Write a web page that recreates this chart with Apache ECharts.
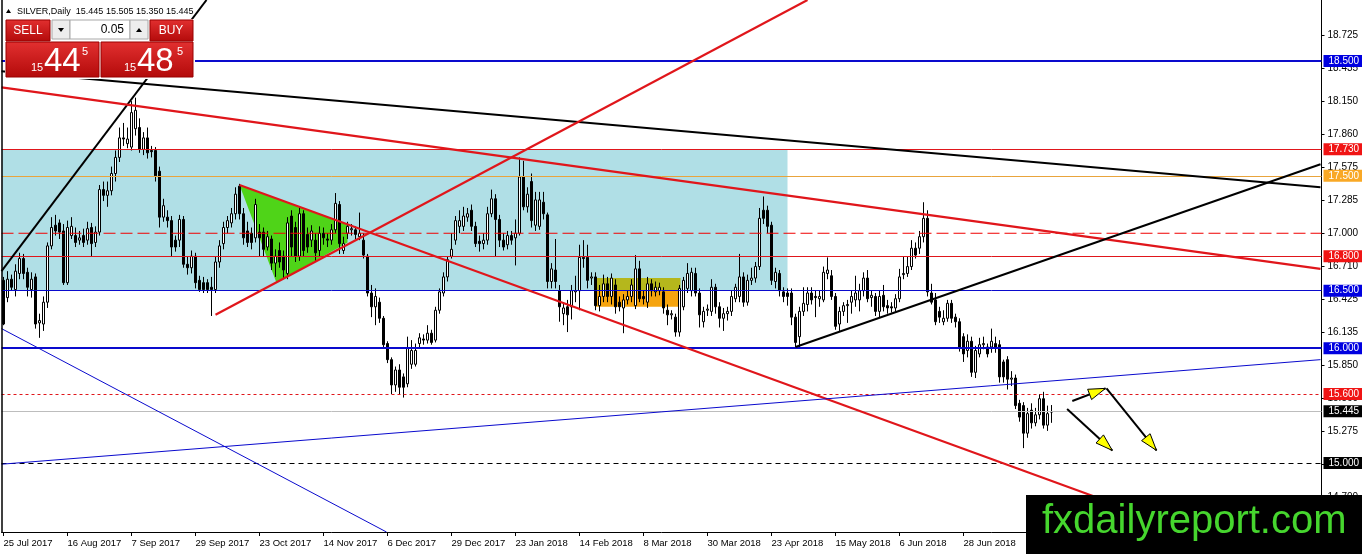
<!DOCTYPE html>
<html><head><meta charset="utf-8">
<script src="https://cdn.jsdelivr.net/npm/echarts@6/dist/echarts.min.js"></script>
<style>html,body{margin:0;padding:0;background:#fff}#c{width:1362px;height:554px}</style>
</head><body><div id="c"></div>
<script>
// ---- data ----
const dateLabels = ["25 Jul 2017","16 Aug 2017","7 Sep 2017","29 Sep 2017","23 Oct 2017","14 Nov 2017","6 Dec 2017","29 Dec 2017","23 Jan 2018","14 Feb 2018","8 Mar 2018","30 Mar 2018","23 Apr 2018","15 May 2018","6 Jun 2018","28 Jun 2018"];
const labelStep = 16;
const slotCount = 330;
const priceTicks = [18.725,18.435,18.150,17.860,17.575,17.285,17.000,16.710,16.425,16.135,15.850,15.560,15.275,14.990,14.700];
// daily bars: [open, high, low, close]
const ohlc = [
[16.59,16.62,16.20,16.21],[16.44,16.67,16.40,16.60],[16.60,16.64,16.50,16.53],[16.51,16.73,16.45,16.67],[16.65,16.83,16.60,16.78],
[16.78,16.82,16.60,16.65],[16.66,16.70,16.45,16.53],[16.51,16.66,16.44,16.60],[16.62,16.65,16.17,16.21],[16.22,16.30,16.09,16.24],
[16.21,16.45,16.15,16.40],[16.40,16.92,16.35,16.89],[16.89,17.14,16.86,17.05],[17.07,17.16,16.98,17.02],[17.09,17.12,16.95,17.01],
[17.02,17.08,16.55,16.57],[16.57,17.11,16.55,17.05],[16.98,17.14,16.95,17.06],[16.98,17.05,16.88,16.92],[16.94,17.02,16.90,16.96],
[16.98,17.04,16.88,16.92],[16.94,17.10,16.90,17.04],[17.05,17.09,16.80,16.91],[16.92,17.06,16.88,17.01],[17.01,17.42,16.98,17.38],
[17.38,17.45,17.28,17.33],[17.33,17.45,17.23,17.37],[17.37,17.58,17.33,17.52],[17.52,17.72,17.45,17.66],[17.66,17.92,17.62,17.83],
[17.83,17.96,17.76,17.82],[17.78,17.92,17.74,17.82],[17.75,18.15,17.72,18.05],[17.91,18.18,17.85,18.07],[17.92,18.00,17.70,17.73],
[17.73,17.88,17.68,17.83],[17.83,17.92,17.65,17.70],[17.72,17.76,17.66,17.71],[17.72,17.75,17.45,17.50],[17.54,17.58,17.05,17.14],
[17.14,17.30,17.10,17.24],[17.14,17.20,17.05,17.11],[17.11,17.15,16.80,16.88],[16.94,16.98,16.84,16.88],[16.94,17.16,16.88,17.12],
[17.12,17.15,16.70,16.73],[16.73,16.80,16.64,16.70],[16.70,16.85,16.65,16.80],[16.80,16.83,16.52,16.57],[16.59,16.63,16.49,16.51],
[16.57,16.62,16.48,16.51],[16.57,16.60,16.48,16.51],[16.53,16.62,16.28,16.51],[16.51,16.80,16.48,16.75],[16.75,16.94,16.70,16.89],
[16.91,17.10,16.86,17.05],[17.05,17.15,17.00,17.11],[17.09,17.22,17.05,17.17],[17.17,17.40,17.12,17.34],[17.41,17.43,17.12,17.17],
[17.17,17.22,16.90,16.96],[17.02,17.10,16.88,16.92],[17.00,17.05,16.86,16.92],[16.96,17.30,16.92,17.25],[17.01,17.08,16.80,16.96],
[17.01,17.05,16.80,16.86],[16.88,17.02,16.85,16.97],[16.95,16.98,16.68,16.74],[16.74,16.86,16.62,16.80],[16.85,16.92,16.70,16.75],
[16.80,16.85,16.60,16.68],[16.65,17.14,16.60,17.09],[17.15,17.20,16.80,16.88],[17.05,17.10,16.75,16.80],[16.80,17.23,16.76,17.17],
[17.17,17.20,16.80,16.85],[16.99,17.05,16.83,16.88],[16.94,17.07,16.88,17.02],[16.94,17.00,16.76,16.83],[16.85,17.06,16.80,17.00],
[17.00,17.05,16.90,16.96],[16.95,17.00,16.88,16.94],[16.94,17.08,16.90,17.03],[17.03,17.35,17.00,17.26],[17.25,17.28,16.82,16.91],
[16.85,16.97,16.82,16.91],[17.00,17.10,16.95,17.06],[17.03,17.08,16.98,17.04],[17.03,17.06,16.95,16.99],[16.97,17.18,16.94,17.00],
[16.94,17.00,16.78,16.81],[16.80,16.82,16.45,16.48],[16.48,16.55,16.27,16.36],[16.36,16.52,16.20,16.45],[16.40,16.44,16.22,16.26],
[16.26,16.28,16.00,16.03],[16.04,16.06,15.87,15.90],[15.90,15.92,15.60,15.68],[15.68,15.84,15.62,15.81],[15.81,15.86,15.60,15.66],
[15.75,15.78,15.57,15.66],[15.69,16.10,15.66,16.00],[15.86,16.07,15.82,15.98],[15.86,16.04,15.84,15.98],[16.04,16.13,16.00,16.09],
[16.08,16.12,16.03,16.07],[16.07,16.20,16.04,16.13],[16.13,16.16,16.03,16.05],[16.07,16.36,16.05,16.33],[16.33,16.52,16.30,16.49],
[16.48,16.66,16.45,16.62],[16.62,16.80,16.58,16.77],[16.80,17.00,16.78,16.86],[16.94,17.15,16.90,17.11],[17.06,17.20,17.00,17.11],
[17.06,17.23,17.02,17.15],[17.14,17.22,17.10,17.17],[17.20,17.25,17.02,17.06],[17.06,17.10,16.88,16.91],[16.93,16.98,16.84,16.91],
[16.91,17.00,16.86,16.94],[16.94,17.23,16.90,17.17],[17.17,17.38,17.14,17.30],[17.30,17.34,16.80,17.12],[17.12,17.16,16.88,16.94],
[16.94,17.00,16.85,16.88],[16.90,17.02,16.86,16.98],[16.98,17.02,16.90,16.94],[16.96,17.12,16.72,17.00],[17.00,17.66,16.98,17.49],
[17.49,17.63,17.20,17.23],[17.23,17.40,17.18,17.34],[17.45,17.52,17.05,17.11],[17.07,17.36,17.02,17.29],[17.06,17.36,17.03,17.29],
[17.27,17.36,17.12,17.17],[17.16,17.18,16.52,16.58],[16.58,16.74,16.52,16.69],[16.68,16.95,16.52,16.58],[16.50,16.55,16.23,16.36],
[16.30,16.40,16.20,16.35],[16.36,16.42,16.14,16.29],[16.36,16.55,16.25,16.50],[16.49,16.63,16.40,16.50],[16.50,16.90,16.33,16.79],
[16.79,16.94,16.70,16.78],[16.79,16.90,16.52,16.59],[16.61,16.66,16.55,16.62],[16.62,16.66,16.33,16.37],[16.37,16.55,16.32,16.45],
[16.45,16.64,16.40,16.56],[16.56,16.62,16.40,16.45],[16.45,16.65,16.38,16.61],[16.55,16.60,16.30,16.36],[16.40,16.45,16.32,16.36],
[16.35,16.47,16.13,16.42],[16.42,16.50,16.38,16.45],[16.45,16.60,16.40,16.55],[16.37,16.81,16.34,16.69],[16.69,16.76,16.40,16.43],
[16.45,16.50,16.38,16.43],[16.40,16.62,16.35,16.56],[16.56,16.60,16.45,16.50],[16.49,16.58,16.45,16.53],[16.50,16.57,16.46,16.53],
[16.49,16.53,16.30,16.35],[16.33,16.38,16.20,16.29],[16.29,16.33,16.25,16.30],[16.27,16.30,16.10,16.14],[16.14,16.55,16.10,16.52],
[16.36,16.62,16.33,16.59],[16.52,16.74,16.48,16.65],[16.50,16.70,16.45,16.66],[16.65,16.70,16.45,16.48],[16.48,16.52,16.18,16.29],
[16.23,16.36,16.18,16.32],[16.33,16.38,16.28,16.34],[16.32,16.60,16.28,16.53],[16.53,16.56,16.30,16.36],[16.36,16.40,16.18,16.26],
[16.26,16.35,16.15,16.30],[16.30,16.36,16.24,16.32],[16.32,16.50,16.28,16.45],[16.43,16.56,16.40,16.53],[16.45,16.82,16.40,16.62],
[16.62,16.66,16.36,16.40],[16.40,16.64,16.37,16.59],[16.59,16.70,16.55,16.61],[16.61,16.75,16.57,16.71],[16.71,17.22,16.68,17.13],
[17.20,17.32,17.08,17.13],[17.20,17.24,17.00,17.06],[17.07,17.10,16.55,16.59],[16.58,16.70,16.52,16.66],[16.65,16.68,16.45,16.50],
[16.49,16.53,16.40,16.45],[16.48,16.52,16.37,16.45],[16.48,16.52,16.20,16.27],[16.27,16.30,16.00,16.05],[16.10,16.36,16.01,16.32],
[16.32,16.53,16.28,16.39],[16.38,16.53,16.32,16.48],[16.48,16.53,16.38,16.42],[16.45,16.50,16.27,16.44],[16.43,16.50,16.36,16.45],
[16.42,16.71,16.40,16.66],[16.65,16.79,16.60,16.68],[16.63,16.68,16.42,16.45],[16.45,16.48,16.16,16.19],[16.21,16.36,16.15,16.32],
[16.32,16.40,16.28,16.37],[16.37,16.42,16.22,16.38],[16.40,16.50,16.30,16.45],[16.42,16.63,16.36,16.48],[16.42,16.56,16.32,16.50],
[16.50,16.66,16.45,16.61],[16.61,16.68,16.40,16.43],[16.44,16.50,16.36,16.46],[16.45,16.48,16.28,16.32],[16.32,16.50,16.27,16.45],
[16.46,16.55,16.32,16.36],[16.37,16.42,16.30,16.35],[16.36,16.40,16.31,16.35],[16.35,16.47,16.32,16.43],[16.43,16.69,16.40,16.62],
[16.64,16.80,16.60,16.65],[16.65,16.80,16.62,16.71],[16.71,16.94,16.68,16.87],[16.87,16.92,16.78,16.81],[16.87,17.02,16.82,16.97],
[16.97,17.27,16.92,17.13],[17.13,17.20,16.45,16.49],[16.48,16.56,16.38,16.40],[16.42,16.48,16.20,16.23],[16.32,16.36,16.22,16.27],
[16.23,16.33,16.20,16.26],[16.26,16.42,16.23,16.39],[16.39,16.42,16.22,16.26],[16.27,16.30,16.18,16.23],[16.23,16.26,15.97,16.01],
[16.10,16.13,15.88,15.95],[15.98,16.12,15.92,16.06],[16.06,16.10,15.75,15.79],[15.79,16.02,15.74,15.98],[15.95,16.09,15.92,16.03],
[16.03,16.10,15.99,16.04],[16.01,16.04,15.92,15.95],[16.01,16.17,15.96,16.06],[16.04,16.10,15.96,16.01],[16.03,16.07,15.70,15.75],
[15.88,15.90,15.70,15.75],[15.90,15.93,15.64,15.73],[15.73,15.80,15.67,15.74],[15.74,15.77,15.47,15.50],[15.52,15.55,15.36,15.40],
[15.50,15.53,15.13,15.26],[15.26,15.48,15.22,15.43],[15.46,15.52,15.30,15.35],[15.35,15.48,15.32,15.42],[15.42,15.60,15.38,15.56],
[15.56,15.62,15.30,15.33],[15.33,15.50,15.28,15.43],[15.445,15.505,15.35,15.445]
];
// horizontal price levels
const levels = [18.500, 17.730, 17.500, 17.000, 16.800, 16.500, 16.000, 15.600, 15.445, 15.000];
// trend lines: [[barIndex, price], [barIndex, price]]
const trendLines = [
  [[-0.5,16.67],[50.75,19.03]],
  [[-0.5,18.41],[329.25,17.40]],
  [[-0.5,18.27],[329.25,16.69]],
  [[53,16.29],[201,19.03]],
  [[59,17.42],[274.25,14.69]],
  [[-0.5,14.99],[329.25,15.90]],
  [[-0.5,16.17],[95.75,14.40]],
  [[198,16.01],[329.25,17.60]]
];
// filled zones: polygon vertices [barIndex, price]
const zones = [
  [[-0.5,17.73],[196,17.73],[196,16.50],[-0.5,16.50]],
  [[148,16.61],[169.25,16.61],[169.25,16.50],[148,16.50]],
  [[148,16.50],[169.25,16.50],[169.25,16.36],[148,16.36]],
  [[59,17.42],[86,17.08],[86,16.92],[68.25,16.57]]
];
// arrows: [fromIndex, fromPrice, toIndex, toPrice]
const arrows = [
  [267.2,15.54,275.5,15.65],
  [275.75,15.65,288.25,15.11],
  [265.9,15.47,277.2,15.11]
];
const header = "SILVER,Daily  15.445 15.505 15.350 15.445";
const sellQuote = ["15","44","5"];
const buyQuote = ["15","48","5"];
const lotSize = "0.05";
const siteName = "fxdailyreport.com";

// ---- styles ----
const RED = '#E0161B', BLUE = '#0A0ACD';
const levelStyle = [
  {c:BLUE, w:2, t:'solid', tag:'#0000E0'},
  {c:RED, w:1, t:'solid', tag:'#F01414'},
  {c:'#E9A43C', w:1, t:'solid', tag:'#F9A825'},
  {c:'#F00000', w:1, t:[12,5], tag:null, asSeries:true},
  {c:RED, w:1, t:'solid', tag:'#F01414'},
  {c:BLUE, w:1, t:'solid', tag:'#0000E0'},
  {c:BLUE, w:2, t:'solid', tag:'#0000E0'},
  {c:RED, w:1, t:[3,3], tag:'#F01414'},
  {c:'#BDBDBD', w:1, t:'solid', tag:'#000000'},
  {c:'#000000', w:1, t:[5,4], tag:'#000000'}
];
const lineStyles = [
  {c:'#000', w:2},{c:'#000', w:2},{c:RED, w:2.2},{c:RED, w:2.2},{c:RED, w:2.2},{c:BLUE, w:1},{c:BLUE, w:1},{c:'#000', w:2}
];
const zoneFill = ['#B0DFE6','#B5B71C','#F6A40E','#4FD418'];
const FONT = 'Liberation Sans';

const categories = Array.from({length: slotCount}, (_, i) => String(i));
const candleData = ohlc.map(r => [r[0], r[3], r[2], r[1]]);
const isLabel = i => i % labelStep === 0;

const markItems = [];
levels.forEach((v, i) => {
  const s = levelStyle[i];
  if (s.asSeries) return;
  markItems.push({
    yAxis: v,
    lineStyle:{color: s.c, width: s.w, type: s.t, opacity:1},
    label: s.tag ? {show:true, position:'end', distance:2, formatter: v.toFixed(3),
      color:'#fff', backgroundColor: s.tag, padding:[1,3,0,5], fontSize:10, lineHeight:11, fontFamily:FONT}
      : {show:false}
  });
});

const series = [];
series.push({
  type:'custom', xAxisIndex:1, yAxisIndex:0, z:1, silent:true,
  data: zones.map(z => z[0]),
  encode:{x:0, y:1},
  renderItem: function(params, api){
    const pts = zones[params.dataIndex].map(p => api.coord(p));
    return {type:'polygon', shape:{points:pts}, style:{fill: zoneFill[params.dataIndex]}};
  }
});
series.push({
  type:'candlestick', xAxisIndex:0, yAxisIndex:0, z:2, barWidth:2, silent:true,
  data: candleData,
  itemStyle:{color:'#FFFFFF', color0:'#000000', borderColor:'#000000', borderColor0:'#000000', borderWidth:1},
  markLine:{symbol:['none','none'], silent:true, animation:false, z:3, data: markItems}
});
levels.forEach((v, i) => {
  const s = levelStyle[i];
  if (!s.asSeries) return;
  series.push({
    type:'line', xAxisIndex:1, yAxisIndex:0, z:3, silent:true, showSymbol:false, symbol:'none',
    data:[[-0.5, v],[slotCount-0.5, v]],
    lineStyle:{color:s.c, width:s.w, type:s.t}
  });
});
trendLines.forEach((seg, i) => {
  series.push({
    type:'line', xAxisIndex:1, yAxisIndex:0, z:4, silent:true, showSymbol:false, symbol:'none',
    data: seg, lineStyle:{color: lineStyles[i].c, width: lineStyles[i].w}, clip:true
  });
});
series.push({
  type:'custom', xAxisIndex:1, yAxisIndex:0, z:6, silent:true,
  data: arrows,
  encode:{x:[0,2], y:[1,3]},
  renderItem: function(params, api){
    const a = arrows[params.dataIndex];
    const p1 = api.coord([a[0],a[1]]), p2 = api.coord([a[2],a[3]]);
    const dx = p2[0]-p1[0], dy = p2[1]-p1[1], len = Math.hypot(dx,dy);
    const ux = dx/len, uy = dy/len, L = 17, W = 5.5;
    const bx = p2[0]-ux*L, by = p2[1]-uy*L;
    return {type:'group', children:[
      {type:'line', shape:{x1:p1[0], y1:p1[1], x2:p2[0], y2:p2[1]}, style:{stroke:'#000', lineWidth:2}},
      {type:'polygon', shape:{points:[p2,[bx-uy*W, by+ux*W],[bx+uy*W, by-ux*W]]}, style:{fill:'#FFFF00', stroke:'#000', lineWidth:1}}
    ]};
  }
});

const redGrad = {type:'linear', x:0, y:0, x2:0, y2:1, colorStops:[{offset:0, color:'#E23030'},{offset:1, color:'#B30A0A'}]};
const graphic = [
  {type:'line', z:50, shape:{x1:2, y1:0, x2:2, y2:532}, style:{stroke:'#000', lineWidth:1.5}},
  {type:'polygon', z:100, shape:{points:[[6,13],[8.5,9],[11,13]]}, style:{fill:'#000'}},
  {type:'text', z:100, x:17, y:11.5, style:{text:header, fill:'#000', font:'9px '+FONT, verticalAlign:'middle'}},
  {type:'rect', z:99, shape:{x:5, y:19, width:190, height:60}, style:{fill:'#fff'}},
  {type:'rect', z:100, shape:{x:6, y:20, width:44, height:21}, style:{fill:redGrad, stroke:'#9A0000', lineWidth:1}},
  {type:'text', z:101, x:28, y:31, style:{text:'SELL', fill:'#fff', font:'12px '+FONT, align:'center', verticalAlign:'middle'}},
  {type:'rect', z:100, shape:{x:52, y:20, width:18, height:19}, style:{fill:'#EDEDED', stroke:'#A8A8A8', lineWidth:1}},
  {type:'polygon', z:101, shape:{points:[[58,28],[64,28],[61,32]]}, style:{fill:'#000'}},
  {type:'rect', z:100, shape:{x:70, y:20, width:60, height:19}, style:{fill:'#fff', stroke:'#A8A8A8', lineWidth:1}},
  {type:'text', z:101, x:124, y:30, style:{text:lotSize, fill:'#000', font:'12px '+FONT, align:'right', verticalAlign:'middle'}},
  {type:'rect', z:100, shape:{x:130, y:20, width:18, height:19}, style:{fill:'#EDEDED', stroke:'#A8A8A8', lineWidth:1}},
  {type:'polygon', z:101, shape:{points:[[136,32],[142,32],[139,28]]}, style:{fill:'#000'}},
  {type:'rect', z:100, shape:{x:150, y:20, width:43, height:21}, style:{fill:redGrad, stroke:'#9A0000', lineWidth:1}},
  {type:'text', z:101, x:171, y:31, style:{text:'BUY', fill:'#fff', font:'12px '+FONT, align:'center', verticalAlign:'middle'}},
  {type:'rect', z:100, shape:{x:6, y:42, width:93, height:35}, style:{fill:redGrad, stroke:'#9A0000', lineWidth:1}},
  {type:'rect', z:100, shape:{x:101, y:42, width:92, height:35}, style:{fill:redGrad, stroke:'#9A0000', lineWidth:1}},
  {type:'text', z:101, x:31, y:73, style:{text:sellQuote[0], fill:'#fff', font:'11px '+FONT, verticalAlign:'bottom'}},
  {type:'text', z:101, x:44, y:78, style:{text:sellQuote[1], fill:'#fff', font:'33px '+FONT, verticalAlign:'bottom'}},
  {type:'text', z:101, x:82, y:46, style:{text:sellQuote[2], fill:'#fff', font:'11px '+FONT, verticalAlign:'top'}},
  {type:'text', z:101, x:124, y:73, style:{text:buyQuote[0], fill:'#fff', font:'11px '+FONT, verticalAlign:'bottom'}},
  {type:'text', z:101, x:137, y:78, style:{text:buyQuote[1], fill:'#fff', font:'33px '+FONT, verticalAlign:'bottom'}},
  {type:'text', z:101, x:177, y:46, style:{text:buyQuote[2], fill:'#fff', font:'11px '+FONT, verticalAlign:'top'}},
  {type:'rect', z:100, shape:{x:1026, y:495, width:336, height:59}, style:{fill:'#000'}},
  {type:'text', z:101, x:1042, y:522, style:{text:siteName, fill:'#46D62E', font:'40px '+FONT, verticalAlign:'middle'}}
];

const chart = echarts.init(document.getElementById('c'), null, {renderer:'canvas'});
chart.setOption({
  animation:false,
  backgroundColor:'#fff',
  textStyle:{fontFamily:FONT},
  grid:{left:1.5, top:0, width:1320, height:532},
  xAxis:[
    {type:'category', data:categories, boundaryGap:true,
     axisLine:{show:true, onZero:false, lineStyle:{color:'#000', width:1}},
     axisTick:{show:true, interval:(i)=>isLabel(i), alignWithLabel:true, length:4, lineStyle:{color:'#000'}},
     axisLabel:{show:true, interval:(i)=>isLabel(i), formatter:(v,i)=> dateLabels[i/labelStep] || '',
       align:'left', margin:6, color:'#000', fontSize:9.5, fontFamily:FONT},
     splitLine:{show:false}},
    {type:'value', min:-0.5, max:slotCount-0.5, show:false, splitLine:{show:false}, axisLine:{onZero:false}}
  ],
  yAxis:[{type:'value', position:'right', min:14.40, max:19.03, scale:true,
    axisLine:{show:true, onZero:false, lineStyle:{color:'#000', width:1}},
    axisTick:{show:true, customValues:priceTicks, length:3, lineStyle:{color:'#000'}},
    axisLabel:{show:true, customValues:priceTicks, formatter:(v)=>v.toFixed(3), margin:6, color:'#000', fontSize:10, fontFamily:FONT},
    splitLine:{show:false}}],
  series: series,
  graphic: graphic
});
</script>
</body></html>
